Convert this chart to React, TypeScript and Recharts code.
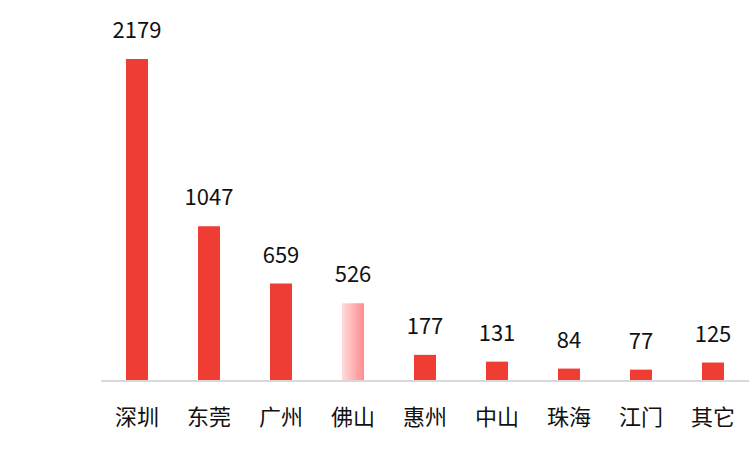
import React from "react";
import { BarChart, Bar, XAxis, YAxis, Cell, LabelList } from "recharts";

const cities = ["深圳", "东莞", "广州", "佛山", "惠州", "中山", "珠海", "江门", "其它"];
const counts = [2179, 1047, 659, 526, 177, 131, 84, 77, 125];
const highlighted = ["佛山"];

const data = cities.map((c, i) => ({ city: c, value: counts[i] }));

const FONT = "'Noto Sans CJK SC', 'Noto Sans', sans-serif";

const CityTick = (props: any) => {
  const { x, y, payload } = props;
  return (
    <text x={x} y={y + 26} textAnchor="middle" dominantBaseline="central" fontSize={22} fill="#111" fontFamily={FONT}>
      {payload.value}
    </text>
  );
};

export default function App() {
  return (
    <div style={{ position: "absolute", left: 0, top: 0, background: "#fff" }}>
      <BarChart
        width={750}
        height={450}
        data={data}
        margin={{ top: 59, right: 1, left: 101, bottom: 39 }}
      >
        <defs>
          <linearGradient id="fadeGrad" x1="0" y1="0" x2="1" y2="0">
            <stop offset="0%" stopColor="#ffdcdc" />
            <stop offset="100%" stopColor="#ff8c8c" />
          </linearGradient>
        </defs>
        <XAxis
          dataKey="city"
          axisLine={{ stroke: "#d9d9d9", strokeWidth: 2 }}
          tickLine={false}
          tick={<CityTick />}
          height={30}
          interval={0}
        />
        <YAxis hide domain={[0, "dataMax"]} />
        <Bar dataKey="value" barSize={22} isAnimationActive={false}>
          {data.map((d) => (
            <Cell key={d.city} fill={highlighted.includes(d.city) ? "url(#fadeGrad)" : "#ef3d33"} />
          ))}
          <LabelList
            dataKey="value"
            position="top"
            offset={21}
            fontSize={22}
            fill="#111"
            fontFamily={FONT}
          />
        </Bar>
      </BarChart>
    </div>
  );
}
